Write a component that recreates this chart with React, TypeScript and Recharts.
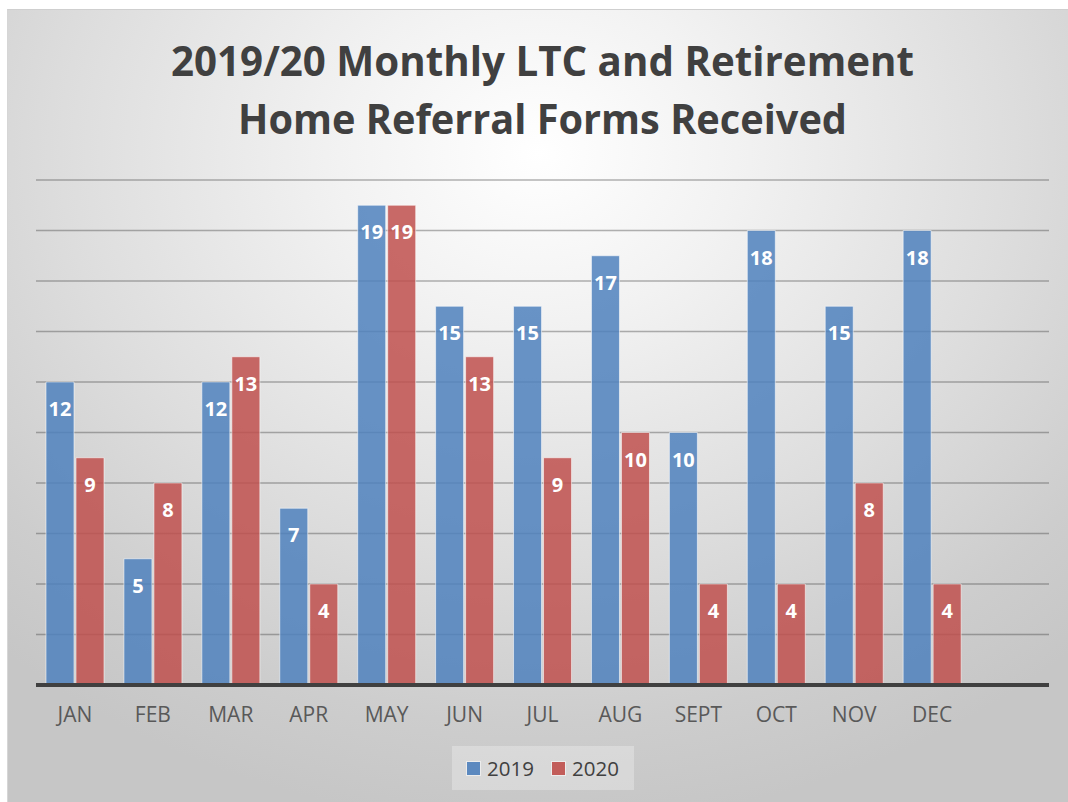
import React from "react";
import { BarChart, Bar, XAxis, YAxis, CartesianGrid, Legend, LabelList } from "recharts";

const months = ["JAN", "FEB", "MAR", "APR", "MAY", "JUN", "JUL", "AUG", "SEPT", "OCT", "NOV", "DEC", ""];
const values2019: (number | null)[] = [12, 5, 12, 7, 19, 15, 15, 17, 10, 18, 15, 18, null];
const values2020: (number | null)[] = [9, 8, 13, 4, 19, 13, 9, 10, 4, 4, 8, 4, null];
const yTicks = [0, 2, 4, 6, 8, 10, 12, 14, 16, 18, 20];
const titleLines = ["2019/20 Monthly LTC and Retirement", "Home Referral Forms Received"];

const data = months.map((m, i) => ({ month: m, y2019: values2019[i], y2020: values2020[i] }));

const W = 1061;
const H = 793;
const FONT = "'Open Sans', 'Noto Sans', sans-serif";

const LegendContent = (props: any) => {
  const payload = props.payload || [];
  return (
    <div style={{ display: "flex", justifyContent: "center", alignItems: "center", height: 44, background: "rgba(255,255,255,0.28)" }}>
      {payload.map((p: any, i: number) => (
        <div key={i} style={{ display: "flex", alignItems: "center", marginLeft: i === 0 ? 0 : 18 }}>
          <div style={{ width: 13, height: 13, background: p.color, opacity: 0.9, marginRight: 7, boxShadow: "0 0 0 1px rgba(255,255,255,0.6)" }} />
          <span style={{ fontFamily: FONT, fontSize: 20.5, color: "#404040" }}>{p.value}</span>
        </div>
      ))}
    </div>
  );
};

export default function App() {
  return (
    <div
      style={{
        position: "absolute",
        left: 7,
        top: 9,
        width: W,
        height: H,
        borderTop: "1px solid #cfcfcf",
        borderLeft: "1px solid #d6d6d6",
        boxSizing: "border-box",
        background: "radial-gradient(ellipse 75% 85% at 50% 18%, #ffffff 0%, #f2f2f2 25%, #dddddd 60%, #cdcdcd 85%, #c6c6c6 100%)",
        overflow: "hidden",
      }}
    >
      <svg width={W} height={150} style={{ position: "absolute", left: 0, top: 0 }}>
        <text x={534.5} y={66} textAnchor="middle" fontFamily={FONT} fontWeight={700} fontSize={42} fill="#404040" textLength={743} lengthAdjust="spacingAndGlyphs">
          {titleLines[0]}
        </text>
        <text x={534.5} y={124} textAnchor="middle" fontFamily={FONT} fontWeight={700} fontSize={42} fill="#404040" textLength={609} lengthAdjust="spacingAndGlyphs">
          {titleLines[1]}
        </text>
      </svg>
      <div style={{ position: "absolute", left: 0, top: 0 }}>
        <BarChart
          width={W - 1}
          height={H - 1}
          data={data}
          margin={{ top: 170, right: 19, bottom: 0, left: 28 }}
          barGap={2}
          barSize={28}
        >
          <CartesianGrid vertical={false} stroke="#4a4a4a" strokeOpacity={0.42} strokeWidth={1.5} />
          <YAxis hide domain={[0, 20]} ticks={yTicks} />
          <XAxis
            dataKey="month"
            height={73}
            interval={0}
            tickLine={false}
            tickSize={0}
            tickMargin={22}
            axisLine={{ stroke: "#404040", strokeWidth: 4 }}
            tick={{ fill: "#595959", fontSize: 21, fontFamily: FONT }}
          />
          <Legend
            verticalAlign="bottom"
            content={<LegendContent />}
            wrapperStyle={{ position: "absolute", left: 444, top: 736, width: 182, height: 44 }}
          />
          <Bar dataKey="y2019" name="2019" fill="#4f81bd" fillOpacity={0.85} stroke="#ffffff" strokeOpacity={0.55} strokeWidth={1} isAnimationActive={false}>
            <LabelList dataKey="y2019" position="insideTop" offset={20} fill="#ffffff" fontSize={20} fontWeight={700} fontFamily={FONT} />
          </Bar>
          <Bar dataKey="y2020" name="2020" fill="#c0504d" fillOpacity={0.85} stroke="#ffffff" strokeOpacity={0.55} strokeWidth={1} isAnimationActive={false}>
            <LabelList dataKey="y2020" position="insideTop" offset={20} fill="#ffffff" fontSize={20} fontWeight={700} fontFamily={FONT} />
          </Bar>
        </BarChart>
      </div>
    </div>
  );
}
